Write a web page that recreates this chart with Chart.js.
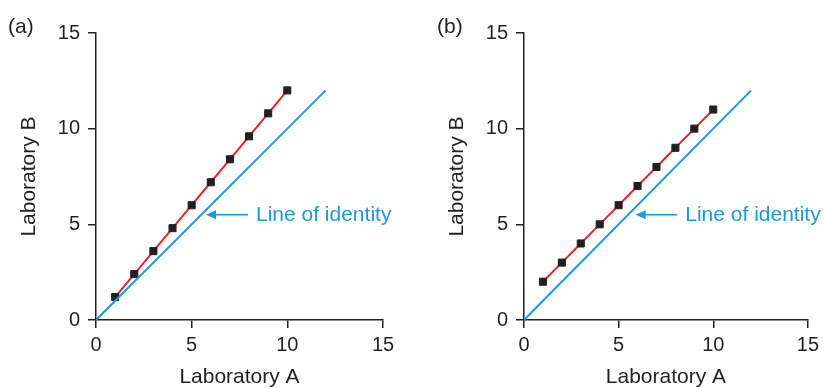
<!DOCTYPE html>
<html>
<head>
<meta charset="utf-8">
<script src="https://cdn.jsdelivr.net/npm/chart.js@4"></script>
<style>
  html, body { margin: 0; padding: 0; background: #fff; }
  #wrap { position: relative; width: 824px; height: 388px; overflow: hidden; }
  canvas { position: absolute; top: 0; }
  #chartA { left: 0; }
  #chartB { left: 412px; }
  .panel-tag { position: absolute; top: 14px; font: 21px "Liberation Sans", Arial, sans-serif; color: #231f20; }
</style>
</head>
<body>
<div id="wrap">
  <canvas id="chartA" width="412" height="388"></canvas>
  <canvas id="chartB" width="412" height="388"></canvas>
  <div class="panel-tag" style="left:8px">(a)</div>
  <div class="panel-tag" style="left:437px">(b)</div>
</div>
<script>
// values
const labA = [1, 2, 3, 4, 5, 6, 7, 8, 9, 10];
const labB_panelA = [1.2, 2.4, 3.6, 4.8, 6.0, 7.2, 8.4, 9.6, 10.8, 12.0];
const labB_panelB = [2, 3, 4, 5, 6, 7, 8, 9, 10, 11];
const identityX = [0, 12];
const identityY = [0, 12];
const axisTicks = [0, 5, 10, 15];
const noteText = 'Line of identity';
// arrow tip / tail / text start, in data units
const noteA = { tip: [5.75, 5.5], tail: 7.95, text: 8.36 };
const noteB = { tip: [5.9, 5.5], tail: 8.1, text: 8.52 };

const FONT = '"Liberation Sans", Arial, Helvetica, sans-serif';
const INK = '#231f20';
const RED = '#e8232b';
const BLUE = '#1b9ad7';

// draws the arrow + label for the identity line
const identityNote = {
  id: 'identityNote',
  afterDatasetsDraw(chart, args, opts) {
    const { ctx, scales: { x, y } } = chart;
    const tipX = x.getPixelForValue(opts.tip[0]);
    const tipY = y.getPixelForValue(opts.tip[1]);
    const tailX = x.getPixelForValue(opts.tail);
    const textX = x.getPixelForValue(opts.text);
    ctx.save();
    ctx.strokeStyle = BLUE;
    ctx.fillStyle = BLUE;
    ctx.lineWidth = 1.6;
    ctx.beginPath();
    ctx.moveTo(tailX, tipY);
    ctx.lineTo(tipX + 7, tipY);
    ctx.stroke();
    ctx.beginPath();
    ctx.moveTo(tipX, tipY);
    ctx.lineTo(tipX + 10, tipY - 4.5);
    ctx.lineTo(tipX + 10, tipY + 4.5);
    ctx.closePath();
    ctx.fill();
    ctx.font = '21px ' + FONT;
    ctx.textAlign = 'left';
    ctx.textBaseline = 'middle';
    ctx.fillText(opts.label, textX, tipY);
    ctx.restore();
  }
};

function makeAxis(title, isY) {
  return {
    type: 'linear',
    min: 0,
    max: 15,
    afterBuildTicks(scale) {
      scale.ticks = axisTicks.map(v => ({ value: v }));
    },
    afterFit(scale) {
      if (isY) scale.width = 96;
      else scale.height = 68;
    },
    border: { display: true, color: INK, width: 1.5 },
    grid: {
      display: true,
      drawOnChartArea: false,
      drawTicks: true,
      tickLength: 8,
      color: INK,
      lineWidth: 1.5
    },
    ticks: {
      color: INK,
      padding: isY ? 8 : 5,
      font: { family: FONT, size: 20 }
    },
    title: {
      display: true,
      text: title,
      color: INK,
      font: { family: FONT, size: 21 },
      padding: isY ? { top: 17, bottom: 0 } : { top: 0, bottom: -2 }
    }
  };
}

function makeChart(id, labBValues, note, pad) {
  const ctx = document.getElementById(id).getContext('2d');
  return new Chart(ctx, {
    type: 'scatter',
    data: {
      datasets: [
        {
          label: 'Line of identity',
          data: identityX.map((v, i) => ({ x: v, y: identityY[i] })),
          showLine: true,
          borderColor: BLUE,
          borderWidth: 2,
          pointRadius: 0
        },
        {
          label: 'Measurements',
          data: labA.map((v, i) => ({ x: v, y: labBValues[i] })),
          showLine: true,
          borderColor: RED,
          borderWidth: 2,
          pointStyle: 'rect',
          pointRadius: 5,
          pointBackgroundColor: INK,
          pointBorderColor: INK,
          pointBorderWidth: 1
        }
      ]
    },
    options: {
      responsive: false,
      animation: false,
      devicePixelRatio: 1,
      layout: { padding: pad },
      scales: {
        x: makeAxis('Laboratory A', false),
        y: makeAxis('Laboratory B', true)
      },
      plugins: {
        legend: { display: false },
        tooltip: { enabled: false },
        identityNote: Object.assign({ label: noteText }, note)
      }
    },
    plugins: [identityNote]
  });
}

makeChart('chartA', labB_panelA, noteA, { left: 0, right: 29, top: 33, bottom: 0 });
makeChart('chartB', labB_panelB, noteB, { left: 16, right: 13, top: 33, bottom: 0 });
</script>
</body>
</html>
